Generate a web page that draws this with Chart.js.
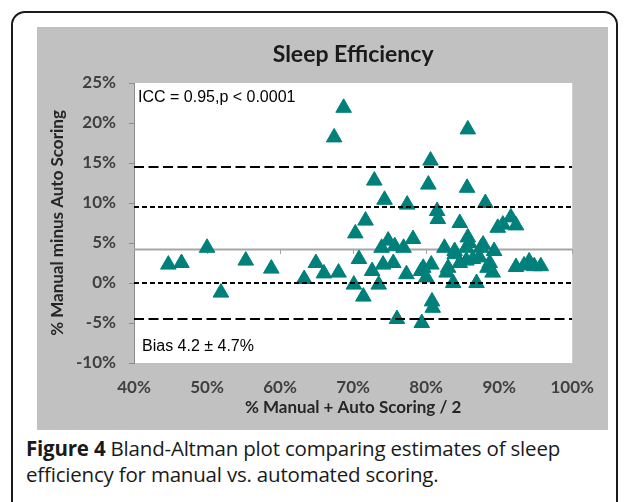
<!DOCTYPE html>
<html>
<head>
<meta charset="utf-8">
<script src="https://cdn.jsdelivr.net/npm/chart.js@4.4.0/dist/chart.umd.min.js"></script>
<style>
  body { margin: 0; background: #fff; width: 627px; height: 502px; overflow: hidden; position: relative; }
  #frame { position: absolute; left: 11px; top: 11px; width: 603px; height: 520px; border: 2px solid #1a1a1a; border-radius: 14px; }
  #panel { position: absolute; left: 37px; top: 27px; width: 571px; height: 403px; background: #c1c1c1; }
  #cap { position: absolute; left: 26px; top: 435px; font: 20.5px "Open Sans", sans-serif; line-height: 26px; color: #1a1a1a; letter-spacing: -0.2px; }
</style>
</head>
<body>
<div id="frame"></div>
<div id="panel"><canvas id="myChart" width="571" height="403"></canvas></div>
<div id="cap"><b>Figure 4</b> Bland-Altman plot comparing estimates of sleep<br>efficiency for manual vs. automated scoring.</div>
<script>
// mean of manual + auto (%), difference manual - auto (%)
const meanVals = [44.7, 46.5, 50.0, 51.9, 55.3, 58.8, 63.3, 64.9, 66.0, 67.4,
  68.7, 68.0, 70.1, 71.4, 70.3, 71.7, 70.8, 72.9, 74.3, 72.6,
  73.5, 73.9, 74.8, 74.1, 75.5, 75.7, 76.9, 77.3, 78.2, 76.0,
  77.4, 79.4, 80.6, 80.3, 79.6, 80.7, 80.0, 80.8, 80.9, 81.5,
  81.6, 82.5, 83.0, 83.7, 83.9, 84.6, 84.6, 85.7, 85.6, 85.7,
  85.5, 85.5, 86.4, 86.9, 87.5, 87.8, 88.1, 88.4, 88.7, 89.1,
  89.3, 89.8, 90.5, 91.6, 92.3, 92.3, 93.4, 94.1, 94.8, 95.7,
  82.8, 79.3, 85.9, 83.9, 87.3]
const diffVals = [2.3, 2.5, 4.4, -1.2, 2.8, 1.8, 0.5, 2.5, 1.2, 18.2,
  21.9, 1.3, -0.2, -1.7, 6.2, 7.8, 3.0, 12.8, 10.4, 1.5,
  -0.2, 4.4, 5.3, 2.3, 2.5, 4.6, 4.4, 1.1, 5.5, -4.5,
  9.8, -5.0, 15.3, 12.3, 1.9, 2.3, 0.7, -2.3, -3.1, 9.0,
  8.0, 4.4, 1.9, 0.0, 4.0, 7.5, 2.5, 19.2, 11.9, 5.7,
  4.4, 2.8, 3.0, 0.0, 4.4, 4.8, 10.0, 1.9, 2.5, 1.3,
  4.0, 6.9, 7.3, 8.2, 7.2, 2.0, 2.2, 2.7, 2.1, 2.1,
  1.3, 1.5, 5.0, 3.6, 3.2]

const bias = 4.2
const outerLimits = [14.5, -4.5]   // long dashes
const innerLines = [9.5, 0]        // short dashes
const xMin = 40, xMax = 100, xStep = 10
const yMin = -10, yMax = 25, yStep = 5

const teal = '#00807a'
const tickFont = { family: 'Lato', size: 17, weight: 'bold' }

function hline(v, dash, color, order) {
  return {
    type: 'line',
    data: [{ x: xMin, y: v }, { x: xMax, y: v }],
    borderColor: color,
    borderWidth: 2,
    borderDash: dash,
    pointRadius: 0,
    order: order
  }
}

const datasets = [{
  type: 'scatter',
  data: meanVals.map((m, i) => ({ x: m, y: diffVals[i] })),
  pointStyle: 'triangle',
  pointRadius: 9,
  backgroundColor: teal,
  borderColor: teal,
  borderWidth: 1,
  order: 1
}]
outerLimits.forEach(v => datasets.push(hline(v, [10, 4.5], '#000', 0)))
innerLines.forEach(v => datasets.push(hline(v, [5, 3], '#000', 0)))
datasets.push(hline(bias, [], '#a6a6a6', 2))

const plotBg = {
  id: 'plotBg',
  beforeDraw(chart) {
    const { ctx, chartArea: a } = chart
    ctx.save()
    ctx.fillStyle = '#fff'
    ctx.fillRect(a.left, a.top, a.width, a.height)
    ctx.restore()
  },
  afterDatasetsDraw(chart) {
    const { ctx, chartArea: a } = chart
    ctx.save()
    ctx.fillStyle = '#000'
    ctx.font = '16px "Liberation Sans", Arial, sans-serif'
    ctx.textBaseline = 'middle'
    ctx.fillText('ICC = 0.95,p < 0.0001', a.left + 4, a.top + 15)
    ctx.fillText('Bias 4.2 \u00B1 4.7%', a.left + 8, a.bottom - 16)
    ctx.restore()
  }
}

new Chart(document.getElementById('myChart'), {
  type: 'scatter',
  data: { datasets: datasets },
  plugins: [plotBg],
  options: {
    responsive: false,
    animation: false,
    devicePixelRatio: 1,
    layout: { padding: { left: 0, right: 33, top: 0, bottom: 0 } },
    plugins: {
      legend: { display: false },
      tooltip: { enabled: false },
      title: {
        display: true,
        fullSize: false,
        text: 'Sleep Efficiency',
        color: '#1a1a1a',
        font: { family: 'Lato', size: 23, weight: 'bold' },
        padding: { top: 14.2, bottom: 14.2 }
      }
    },
    scales: {
      x: {
        type: 'linear',
        position: { y: bias },
        min: xMin, max: xMax,
        ticks: { display: false, stepSize: xStep },
        grid: { drawOnChartArea: false, drawTicks: true, tickLength: 5, color: '#a6a6a6' },
        border: { display: false },
        afterFit: s => { s.height = 0 }
      },
      x2: {
        type: 'linear',
        position: 'bottom',
        min: xMin, max: xMax,
        ticks: { stepSize: xStep, padding: 14, color: '#404040', font: tickFont, callback: v => v + '%' },
        grid: { display: false, drawTicks: false },
        border: { display: false },
        title: {
          display: true,
          text: '% Manual + Auto Scoring / 2',
          color: '#262626',
          font: tickFont,
          padding: { top: 0, bottom: 12 }
        },
        afterFit: s => { s.height = 67 }
      },
      y: {
        type: 'linear',
        min: yMin, max: yMax,
        ticks: { stepSize: yStep, padding: 13, color: '#404040', font: tickFont, callback: v => v + '%' },
        grid: { drawOnChartArea: false, drawTicks: true, tickLength: 5, color: '#8c8c8c' },
        border: { display: true, color: '#8c8c8c' },
        title: {
          display: true,
          text: '% Manual minus Auto Scoring',
          color: '#262626',
          font: tickFont,
          padding: { top: 10, bottom: 0 }
        },
        afterFit: s => { s.width = 97 }
      }
    }
  }
})
</script>
</body>
</html>
